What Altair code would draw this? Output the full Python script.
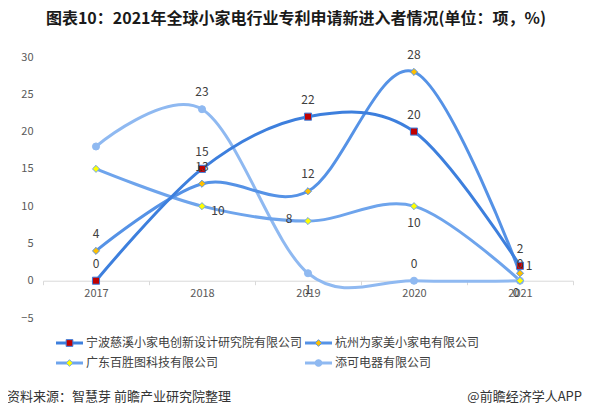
import altair as alt
import pandas as pd

# ---------------- data ----------------
years = ["2017", "2018", "2019", "2020", "2021"]
series = [
    "宁波慈溪小家电创新设计研究院有限公司",
    "杭州为家美小家电有限公司",
    "广东百胜图科技有限公司",
    "添可电器有限公司",
]
v_ningbo = [0, 15, 22, 20, 2]
v_hangzhou = [4, 13, 12, 28, 1]
v_guangdong = [15, 10, 8, 10, 0]
v_tineco = [18, 23, 1, 0, 0]
values = [v_ningbo, v_hangzhou, v_guangdong, v_tineco]

# label placement codes per point ("" = no label)
label_pos = [
    ["t", "t", "t", "t", "t"],
    ["t", "t", "t", "t", "ur"],
    ["", "r", "l", "b", "t"],
    ["", "t", "b", "t", "bl"],
]
legend_col = [0, 1, 0, 1]
legend_row = [0, 0, 1, 1]

title_text = "图表10：2021年全球小家电行业专利申请新进入者情况(单位：项，%)"
source_text = "资料来源：智慧芽 前瞻产业研究院整理"
brand_text = "@前瞻经济学人APP"

# ---------------- style ----------------
FONT = "Noto Sans CJK SC"
line_colors = ["#3d7fdd", "#5592e6", "#6ea4ec", "#8fb9f1"]
marker_fills = ["#c00000", "#ffc000", "#ffff00", "#8fb9f1"]
shapes = ["square", "diamond", "diamond", "circle"]
offsets = {"t": (0, -17), "b": (0, 17), "r": (16, 5), "l": (-19, -2),
           "ur": (9, -7), "bl": (-4, 12)}

W, H = 530, 261
axis_offset = -H * 5 / 35

rows = []
for i in reversed(range(len(series))):
    for j, yr in enumerate(years):
        rows.append({"series": series[i], "year": yr, "value": values[i][j],
                     "pos": label_pos[i][j], "label": str(values[i][j])})
df = pd.DataFrame(rows)

leg = pd.DataFrame({"series": series, "col": legend_col, "row": legend_row})

stroke_enc = alt.Stroke("series:N", scale=alt.Scale(domain=series, range=line_colors), legend=None)
fill_enc = alt.Fill("series:N", scale=alt.Scale(domain=series, range=marker_fills), legend=None)
shape_enc = alt.Shape("series:N", scale=alt.Scale(domain=series, range=shapes), legend=None)

x_axis = alt.Axis(title=None, domainColor="#d9d9d9", tickColor="#d9d9d9", tickBand="extent",
                  tickSize=4, labelPadding=3, labelColor="#595959", labelFontSize=11,
                  labelFont=FONT, labelAngle=0, grid=False, offset=axis_offset)
y_axis = alt.Axis(title=None, domain=False, ticks=False, tickSize=0, grid=False,
                  values=[-5, 0, 5, 10, 15, 20, 25, 30], labelPadding=10,
                  labelColor="#595959", labelFontSize=11, labelFont=FONT)

x_enc = alt.X("year:O", scale=alt.Scale(type="band", paddingInner=0, paddingOuter=0),
              bandPosition=0.5, axis=x_axis)
y_enc = alt.Y("value:Q", scale=alt.Scale(domain=[-5, 30], nice=False, zero=False), axis=y_axis)

base = alt.Chart(df)
lines = base.mark_line(interpolate="cardinal", strokeWidth=3).encode(
    x=x_enc, y=y_enc, stroke=stroke_enc, detail="series:N")
points = base.mark_point(filled=True, opacity=1, strokeWidth=1, size=50).encode(
    x=x_enc, y=y_enc, stroke=stroke_enc, fill=fill_enc, shape=shape_enc)

label_layers = []
for code, (dx, dy) in offsets.items():
    label_layers.append(
        base.transform_filter(alt.datum.pos == code)
        .mark_text(dx=dx, dy=dy, fontSize=12, font=FONT, color="#404040", baseline="middle")
        .encode(x=x_enc, y=y_enc, text="label:N")
    )

main = alt.layer(lines, points, *label_layers)

# legend drawn with its own scales
lx = alt.X("col:Q", scale=alt.Scale(domain=[0, 1], range=[13, 262]), axis=None)
ly = alt.Y("row:Q", scale=alt.Scale(domain=[0, 1], range=[286, 306]), axis=None)
lbase = alt.Chart(leg)
leg_lines = lbase.mark_rule(strokeWidth=3, x2Offset=27).encode(
    x=lx, x2=alt.X2("col:Q"), y=ly, stroke=stroke_enc)
leg_pts = lbase.mark_point(filled=True, opacity=1, strokeWidth=1, size=45, xOffset=13.5).encode(
    x=lx, y=ly, stroke=stroke_enc, fill=fill_enc, shape=shape_enc)
leg_text = lbase.mark_text(dx=30, align="left", baseline="middle", fontSize=12, font=FONT,
                           color="#404040").encode(x=lx, y=ly, text="series:N")
legend = alt.layer(leg_lines, leg_pts, leg_text)

one = pd.DataFrame({"a": [1]})
title = alt.Chart(one).mark_text(fontSize=16, fontWeight="bold", font=FONT, color="#1a1a1a",
                                 align="center", baseline="middle").encode(
    x=alt.value(253), y=alt.value(-38), text=alt.value(title_text))
src = alt.Chart(one).mark_text(fontSize=13, font=FONT, color="#333333",
                               align="left", baseline="middle").encode(
    x=alt.value(-36), y=alt.value(340), text=alt.value(source_text))
brand = alt.Chart(one).mark_text(fontSize=13, font=FONT, color="#333333",
                                 align="right", baseline="middle").encode(
    x=alt.value(539), y=alt.value(340), text=alt.value(brand_text))

chart = alt.layer(main, legend, title, src, brand).resolve_scale(
    x="independent", y="independent"
).properties(
    width=W, height=H,
    autosize=alt.AutoSizeParams(type="none"),
    padding={"left": 35, "top": 49, "right": 11, "bottom": 92},
    background="white",
).configure_view(stroke=None)

chart.save("out.html", embed_options={"renderer": "svg", "actions": False})
